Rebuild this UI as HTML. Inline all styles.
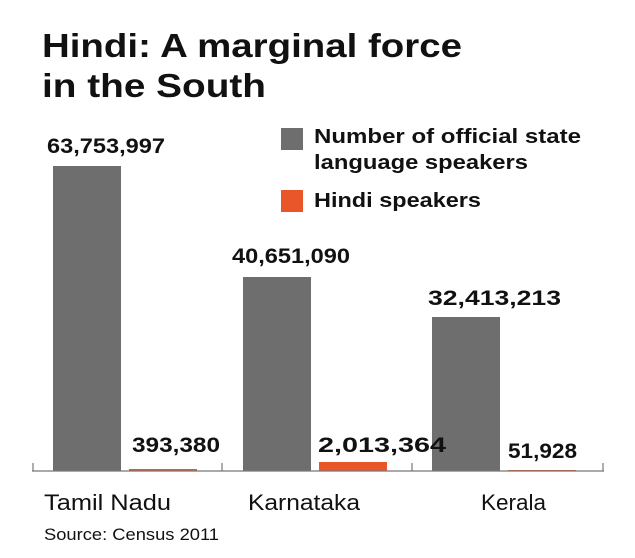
<!DOCTYPE html>
<html><head><meta charset="utf-8"><style>html,body{margin:0;padding:0;background:#fff}svg{display:block}</style></head>
<body>
<svg width="635" height="558" xmlns="http://www.w3.org/2000/svg" font-family="Liberation Sans, sans-serif">
<rect width="635" height="558" fill="#fff"/>
<text x="42" y="57" font-size="33" font-weight="bold" fill="#111" textLength="420" lengthAdjust="spacingAndGlyphs">Hindi: A marginal force</text>
<text x="42" y="97" font-size="33" font-weight="bold" fill="#111" textLength="224" lengthAdjust="spacingAndGlyphs">in the South</text>
<rect x="281" y="128" width="22" height="22" fill="#6e6e6e"/>
<text x="314" y="143" font-size="20" font-weight="bold" fill="#111" textLength="267" lengthAdjust="spacingAndGlyphs">Number of official state</text>
<text x="314" y="169" font-size="20" font-weight="bold" fill="#111" textLength="214" lengthAdjust="spacingAndGlyphs">language speakers</text>
<rect x="281" y="190" width="22" height="22" fill="#e8562a"/>
<text x="314" y="207" font-size="20" font-weight="bold" fill="#111" textLength="167" lengthAdjust="spacingAndGlyphs">Hindi speakers</text>
<rect x="53" y="166" width="68" height="305" fill="#6e6e6e"/>
<rect x="129" y="469" width="68" height="2" fill="#e8562a"/>
<rect x="243" y="277" width="68" height="194" fill="#6e6e6e"/>
<rect x="319" y="462" width="68" height="9" fill="#e8562a"/>
<rect x="432" y="317" width="68" height="154" fill="#6e6e6e"/>
<rect x="508" y="470" width="68" height="1" fill="#e8562a"/>
<g stroke="#777" stroke-width="1.2">
<line x1="32" y1="471" x2="604" y2="471"/>
<line x1="33" y1="463" x2="33" y2="471"/>
<line x1="222" y1="463" x2="222" y2="471"/>
<line x1="412" y1="463" x2="412" y2="471"/>
<line x1="603" y1="463" x2="603" y2="471"/>
</g>
<g font-size="21" font-weight="bold" fill="#111">
<text x="47" y="153" textLength="118" lengthAdjust="spacingAndGlyphs">63,753,997</text>
<text x="132" y="452" textLength="88" lengthAdjust="spacingAndGlyphs">393,380</text>
<text x="232" y="263" textLength="118" lengthAdjust="spacingAndGlyphs">40,651,090</text>
<text x="318" y="452" textLength="128" lengthAdjust="spacingAndGlyphs">2,013,364</text>
<text x="428" y="305" textLength="133" lengthAdjust="spacingAndGlyphs">32,413,213</text>
<text x="508" y="458" textLength="69" lengthAdjust="spacingAndGlyphs">51,928</text>
</g>
<g font-size="22" fill="#111">
<text x="44" y="510" textLength="127" lengthAdjust="spacingAndGlyphs">Tamil Nadu</text>
<text x="248" y="510" textLength="112" lengthAdjust="spacingAndGlyphs">Karnataka</text>
<text x="481" y="510" textLength="65" lengthAdjust="spacingAndGlyphs">Kerala</text>
</g>
<text x="44" y="540" font-size="17" fill="#111" textLength="175" lengthAdjust="spacingAndGlyphs">Source: Census 2011</text>
</svg>
</body></html>
